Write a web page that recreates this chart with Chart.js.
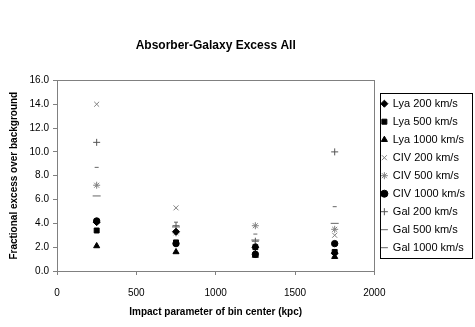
<!DOCTYPE html>
<html>
<head>
<meta charset="utf-8">
<script src="https://cdn.jsdelivr.net/npm/chart.js@4.4.0/dist/chart.umd.min.js"></script>
<style>
  html, body { margin: 0; padding: 0; background: #fff; }
  #wrap { width: 475px; height: 327px; }
</style>
</head>
<body>
<div id="wrap"><canvas id="myChart" width="475" height="327"></canvas></div>
<script>
// Bin centers (kpc)
const binCenters = [250, 750, 1250, 1750];
// Fractional excess per series
const lya200 = [4.1, 3.3, 2.0, 1.5];
const lya500 = [3.4, 2.4, 2.0, 1.6];
const lya1000 = [2.1, 1.6, 1.3, 1.2];
const civ200 = [14.0, 5.3, 2.4, 3.0];
const civ500 = [7.2, 3.2, 3.8, 3.5];
const civ1000 = [4.2, 2.3, 1.4, 2.3];
const gal200 = [10.8, 3.8, 2.5, 10.0];
const gal500 = [8.7, 4.1, 3.1, 5.4];
const gal1000 = [6.3, 3.7, 2.6, 4.0];

const seriesNames = ["Lya 200 km/s", "Lya 500 km/s", "Lya 1000 km/s",
  "CIV 200 km/s", "CIV 500 km/s", "CIV 1000 km/s",
  "Gal 200 km/s", "Gal 500 km/s", "Gal 1000 km/s"];
const seriesValues = [lya200, lya500, lya1000, civ200, civ500, civ1000, gal200, gal500, gal1000];

// marker look for each series
const styles = [
  { pointStyle: "rectRot", radius: 3.5, color: "#000" },
  { pointStyle: "rect", radius: 3.5, color: "#000" },
  { pointStyle: "triangle", radius: 3.5, color: "#000" },
  { pointStyle: "crossRot", radius: 3.5, color: "#808080" },
  { pointStyle: "star", radius: 3.5, color: "#808080" },
  { pointStyle: "circle", radius: 3.2, color: "#000" },
  { pointStyle: "cross", radius: 3.5, color: "#555" },
  { pointStyle: "line", radius: 2, color: "#666" },
  { pointStyle: "line", radius: 4, color: "#666" },
];

const datasets = seriesNames.map((name, i) => ({
  label: name,
  data: binCenters.map((x, j) => ({ x: x, y: seriesValues[i][j] })),
  pointStyle: styles[i].pointStyle,
  pointRadius: styles[i].radius,
  backgroundColor: styles[i].color,
  borderColor: styles[i].color,
  borderWidth: 1,
  showLine: false,
}));

// frame round plot area and legend
const framePlugin = {
  id: "frame",
  afterDraw(chart) {
    const ctx = chart.ctx;
    const a = chart.chartArea;
    ctx.save();
    ctx.strokeStyle = "#808080";
    ctx.lineWidth = 1;
    ctx.strokeRect(Math.round(a.left) + 0.5, Math.round(a.top) + 0.5,
      Math.round(a.right - a.left), Math.round(a.bottom - a.top));
    const boxes = chart.legend.legendHitBoxes;
    if (boxes && boxes.length) {
      const top = Math.min(...boxes.map(b => b.top)) - 5;
      const bottom = Math.max(...boxes.map(b => b.top + b.height)) + 5;
      const left = Math.min(...boxes.map(b => b.left)) - 1;
      const right = 472;
      ctx.strokeStyle = "#000";
      ctx.strokeRect(Math.round(left) + 0.5, Math.round(top) + 0.5,
        Math.round(right - left), Math.round(bottom - top));
    }
    ctx.restore();
  }
};

const fontFam = "'Liberation Sans', Arial, sans-serif";

const config = {
  type: "scatter",
  data: { datasets: datasets },
  options: {
    responsive: false,
    animation: false,
    layout: { padding: { left: 0, right: 0, top: 0, bottom: 0 } },
    plugins: {
      title: {
        display: true,
        text: "Absorber-Galaxy Excess All",
        color: "#000",
        fullSize: false,
        font: { family: fontFam, size: 12, weight: "bold" },
        padding: { top: 38, bottom: 28 },
      },
      legend: {
        position: "right",
        fullSize: false,
        labels: {
          usePointStyle: true,
          color: "#000",
          font: { family: fontFam, size: 11 },
          padding: 7,
          boxWidth: 6,
          boxHeight: 5,
        },
      },
      tooltip: { enabled: false },
    },
    scales: {
      x: {
        type: "linear",
        min: 0,
        max: 2000,
        ticks: {
          stepSize: 500, color: "#000", font: { family: fontFam, size: 10 }, padding: 12,
          callback: (v) => String(v),
        },
        grid: { drawOnChartArea: false, color: "#808080", tickLength: 4 },
        border: { color: "#808080" },
        title: {
          display: true,
          text: "Impact parameter of bin center (kpc)",
          color: "#000",
          font: { family: fontFam, size: 10, weight: "bold" },
          padding: { top: 4, bottom: 9 },
        },
        afterFit(scale) { scale.height = 56; },
      },
      y: {
        min: 0,
        max: 16,
        ticks: {
          stepSize: 2, color: "#000", font: { family: fontFam, size: 10 }, padding: 4,
          callback: (v) => v.toFixed(1),
        },
        grid: { drawOnChartArea: false, color: "#808080", tickLength: 4 },
        border: { color: "#808080" },
        title: {
          display: true,
          text: "Fractional excess over background",
          color: "#000",
          font: { family: fontFam, size: 10, weight: "bold" },
          padding: { top: 8, bottom: 0 },
        },
        afterFit(scale) { scale.width = 57; },
      },
    },
  },
  plugins: [framePlugin],
};

let myChart = new Chart(document.getElementById("myChart").getContext("2d"), config);
</script>
</body>
</html>
